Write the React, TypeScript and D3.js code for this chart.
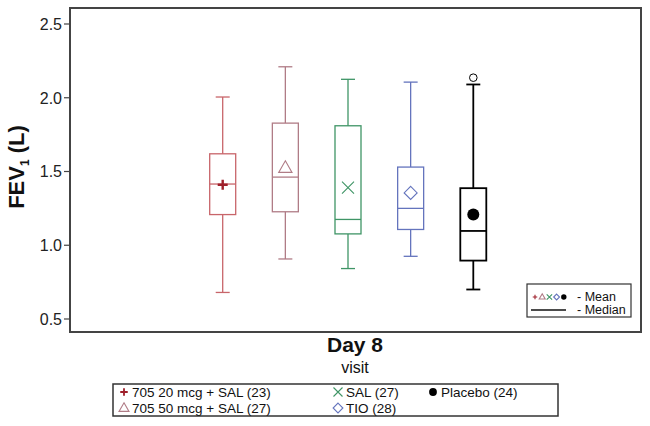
import React from 'react';
import * as d3 from 'd3';

// groups and box statistics (FEV1, litres)
const groups = ['705 20 mcg + SAL', '705 50 mcg + SAL', 'SAL', 'TIO', 'Placebo'];
const counts = [23, 27, 27, 28, 24];
const lowW = [0.68, 0.907, 0.842, 0.925, 0.70];
const q1 = [1.208, 1.227, 1.077, 1.107, 0.896];
const median = [1.415, 1.462, 1.175, 1.25, 1.097];
const q3 = [1.62, 1.828, 1.81, 1.53, 1.387];
const highW = [2.005, 2.21, 2.125, 2.106, 2.09];
const means = [1.41, 1.525, 1.39, 1.355, 1.208];
const outliers = [[], [], [], [], [2.136]];
const colors = ['#c8656a', '#b07c86', '#3f9566', '#6474bd', '#000000'];
const markColors = ['#9e1f2a', '#b07c86', '#3f9566', '#6474bd', '#000000'];
const markers = ['plus', 'triangle', 'x', 'diamond', 'dot'];
const yTicks = [0.5, 1.0, 1.5, 2.0, 2.5];

const W = 650, H = 426;
const frame = { left: 70, top: 8, right: 641, bottom: 332 };
const font = '"Liberation Sans", Arial, sans-serif';

function Marker({ kind, x, y, color, s = 1 }: { kind: string; x: number; y: number; color: string; s?: number }) {
  if (kind === 'plus') {
    return (
      <path d={`M${x - 5 * s},${y}H${x + 5 * s}M${x},${y - 5 * s}V${y + 5 * s}`} stroke={color} strokeWidth={2.4 * s} />
    );
  }
  if (kind === 'triangle') {
    const r = 7 * s;
    return (
      <path d={`M${x},${y - r}L${x + r * 0.95},${y + r * 0.65}L${x - r * 0.95},${y + r * 0.65}Z`} fill="none" stroke={color} strokeWidth={1.1} />
    );
  }
  if (kind === 'x') {
    const r = 6 * s;
    return (
      <path d={`M${x - r},${y - r}L${x + r},${y + r}M${x - r},${y + r}L${x + r},${y - r}`} stroke={color} strokeWidth={1.1} />
    );
  }
  if (kind === 'diamond') {
    const r = 6.5 * s;
    return <path d={`M${x},${y - r}L${x + r},${y}L${x},${y + r}L${x - r},${y}Z`} fill="none" stroke={color} strokeWidth={1.1} />;
  }
  return <circle cx={x} cy={y} r={6 * s} fill={color} />;
}

export default function App() {
  const y = d3.scaleLinear().domain([0.5, 2.5]).range([319, 24]);
  const x = d3.scalePoint<string>().domain(groups).range([222.7, 473.3]);
  const bw = 26, cap = 14;

  return (
    <svg width={W} height={H} style={{ position: 'absolute', left: 0, top: 0 }} fontFamily={font}>
      <rect width={W} height={H} fill="#fff" />
      <rect x={frame.left} y={frame.top} width={frame.right - frame.left} height={frame.bottom - frame.top}
        fill="none" stroke="#444" strokeWidth={2} />

      {yTicks.map((t) => (
        <g key={t}>
          <line x1={frame.left - 6} x2={frame.left} y1={y(t)} y2={y(t)} stroke="#444" strokeWidth={1.2} />
          <text x={frame.left - 8} y={y(t)} dy="0.36em" textAnchor="end" fontSize={16} fill="#222">{t.toFixed(1)}</text>
        </g>
      ))}

      <text transform="translate(24,167) rotate(-90)" textAnchor="middle" fontSize={22} fontWeight="bold" fill="#111">
        FEV<tspan fontSize={12} dy="5">1</tspan><tspan dy="-5"> (L)</tspan>
      </text>

      {groups.map((g, i) => {
        const cx = x(g)!;
        const c = colors[i];
        const sw = i === 4 ? 1.8 : 1.3;
        return (
          <g key={g}>
            <line x1={cx} x2={cx} y1={y(highW[i])} y2={y(q3[i])} stroke={c} strokeWidth={sw} />
            <line x1={cx} x2={cx} y1={y(q1[i])} y2={y(lowW[i])} stroke={c} strokeWidth={sw} />
            <line x1={cx - cap / 2} x2={cx + cap / 2} y1={y(highW[i])} y2={y(highW[i])} stroke={c} strokeWidth={sw} />
            <line x1={cx - cap / 2} x2={cx + cap / 2} y1={y(lowW[i])} y2={y(lowW[i])} stroke={c} strokeWidth={sw} />
            <rect x={cx - bw / 2} y={y(q3[i])} width={bw} height={y(q1[i]) - y(q3[i])} fill="none" stroke={c} strokeWidth={sw} />
            <line x1={cx - bw / 2} x2={cx + bw / 2} y1={y(median[i])} y2={y(median[i])} stroke={c} strokeWidth={sw} />
            <Marker kind={markers[i]} x={cx} y={y(means[i])} color={markColors[i]} />
            {outliers[i].map((o) => (
              <circle key={o} cx={cx} cy={y(o)} r={3.8} fill="none" stroke="#000" strokeWidth={1} />
            ))}
          </g>
        );
      })}

      {/* inner key */}
      <rect x={527} y={284} width={104} height={33} fill="#fff" stroke="#333" strokeWidth={1.2} />
      {markers.map((m, i) => (
        <Marker key={m} kind={m} x={535 + i * 7.2} y={297} color={markColors[i]} s={0.45} />
      ))}
      <text x={577} y={297} dy="0.35em" fontSize={12.5} fill="#111">- Mean</text>
      <line x1={531} x2={566} y1={310} y2={310} stroke="#111" strokeWidth={1.3} />
      <text x={577} y={310} dy="0.35em" fontSize={12.5} fill="#111">- Median</text>

      <text x={355} y={352} textAnchor="middle" fontSize={21} fontWeight="bold" fill="#111">Day 8</text>
      <text x={355} y={373} textAnchor="middle" fontSize={16} fill="#111">visit</text>

      {/* group legend */}
      <rect x={113} y={384} width={445} height={32} fill="#fff" stroke="#333" strokeWidth={1.5} />
      {groups.map((g, i) => {
        const col = i < 2 ? 0 : i < 4 ? 1 : 2;
        const row = i < 4 ? i % 2 : 0;
        const mx = [124, 338, 433][col];
        const my = 392 + row * 16;
        return (
          <g key={g}>
            <Marker kind={markers[i]} x={mx} y={my} color={markColors[i]} s={i === 4 ? 0.65 : 0.75} />
            <text x={mx + 8} y={my} dy="0.36em" fontSize={13.5} fill="#111">{`${g} (${counts[i]})`}</text>
          </g>
        );
      })}
    </svg>
  );
}
